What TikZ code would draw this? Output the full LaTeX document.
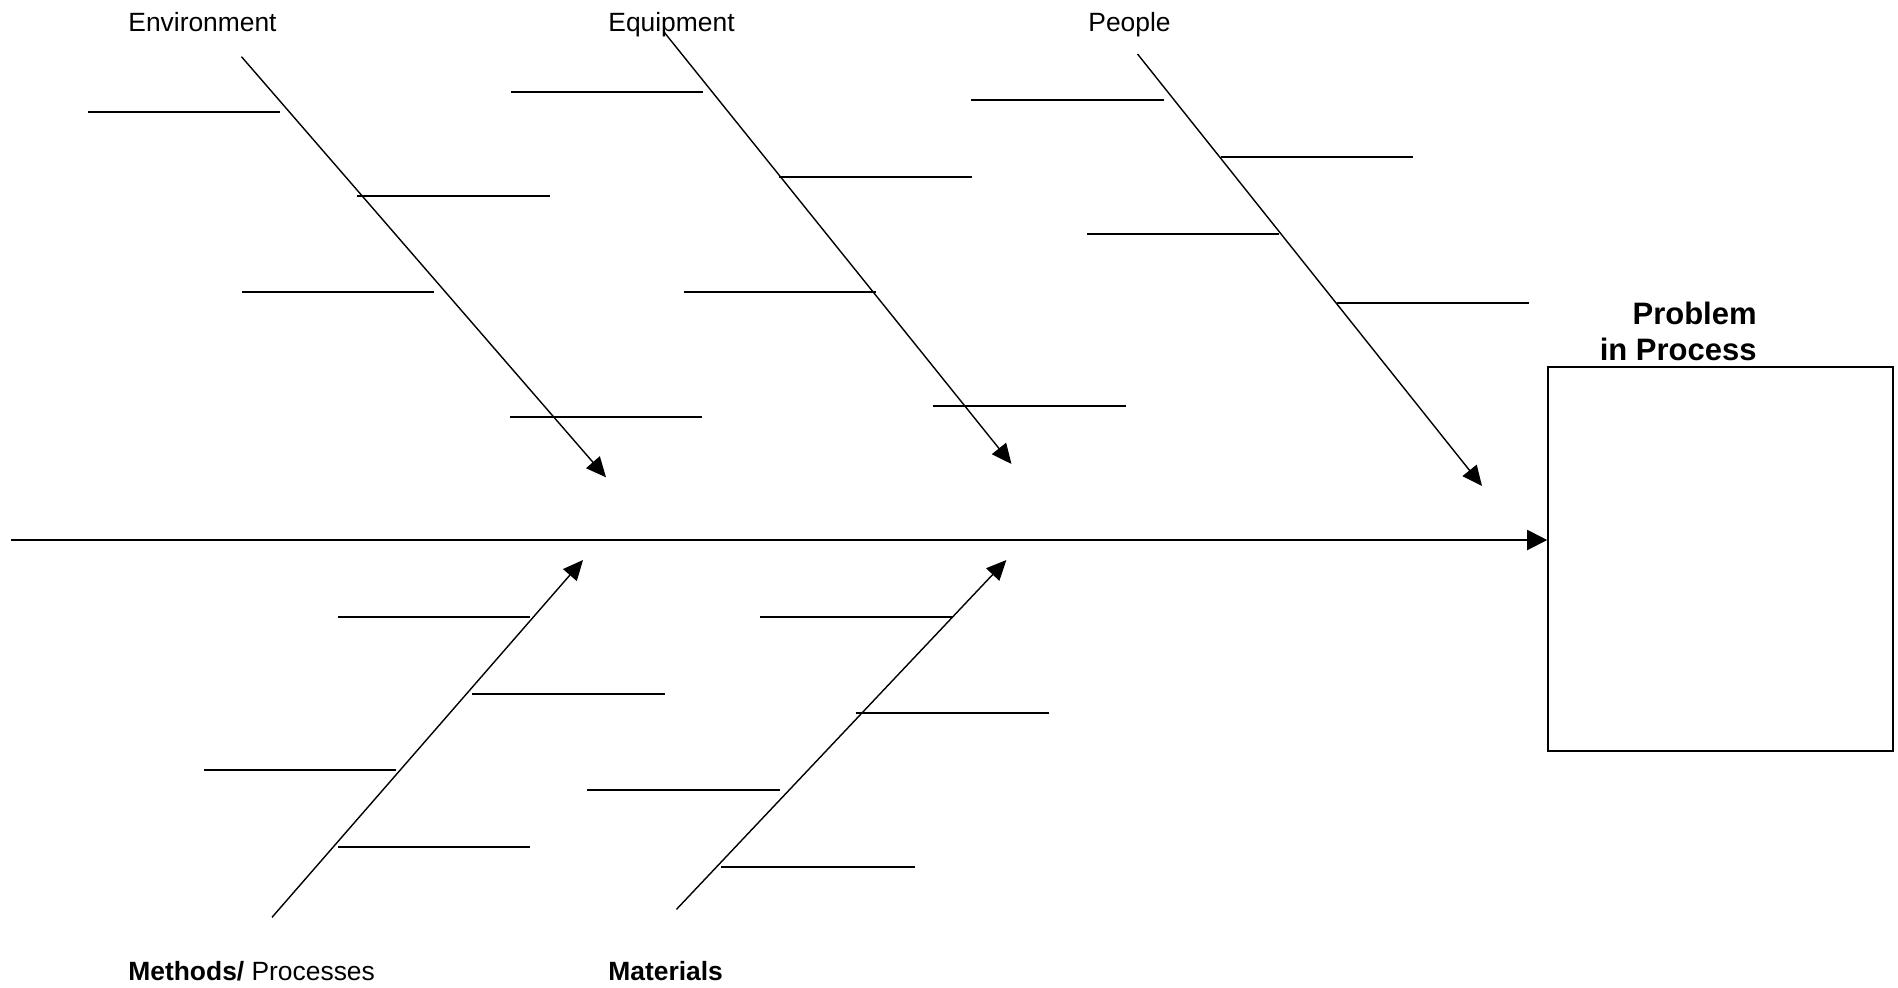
\documentclass[tikz,border=0pt]{standalone}
\usepackage{fontspec}
\setmainfont{Liberation Sans}
\usetikzlibrary{arrows.meta}
\begin{document}
\begin{tikzpicture}[x=0.5pt,y=-0.5pt,
  lbl/.style={inner sep=0pt, anchor=base west, font=\fontsize{13.2}{16}\selectfont},
  ttl/.style={inner sep=0pt, anchor=base east, font=\fontsize{15.5}{18}\selectfont\bfseries},
  bone/.style={line width=0.7pt, -{Triangle[length=10pt,width=9pt]}},
  sub/.style={line width=0.9pt},
  spine/.style={line width=1pt, -{Triangle[length=10pt,width=10pt]}},
  effect/.style={draw, line width=0.8pt, inner sep=0pt, minimum width=172.5pt, minimum height=192pt},
]
\useasboundingbox (0,0) rectangle (1898,987);

% category labels
\node[lbl] (lenv) at (128,31.7) {Environment};
\node[lbl] (lequ) at (608,31.7) {Equipment};
\node[lbl] (lpeo) at (1088,31.7) {People};
\node[lbl] (lmet) at (128,980) {\textbf{Methods/} Processes};
\node[lbl] (lmat) at (608,980) {\textbf{Materials}};

% effect box and its title
\node[effect] (box) at (1720.5,559) {};
\node[ttl] (t1) at (1757,324) {Problem};
\node[ttl] (t2) at (1757,360) {in Process};

% spine
\coordinate (s0) at (11,540);
\draw[spine] (s0) -- (s0 -| box.west);

% bones
\coordinate (env0) at (241.5,56.7);  \coordinate (env1) at (606,477.3);
\coordinate (equ0) at (664,32);      \coordinate (equ1) at (1011.5,464);
\coordinate (peo0) at (1137.5,54);   \coordinate (peo1) at (1482,486);
\coordinate (met0) at (272,917.3);   \coordinate (met1) at (583,560);
\coordinate (mat0) at (676.5,909.3); \coordinate (mat1) at (1006.4,560);
\draw[bone] (env0) -- (env1);
\draw[bone] (equ0) -- (equ1);
\draw[bone] (peo0) -- (peo1);
\draw[bone] (met0) -- (met1);
\draw[bone] (mat0) -- (mat1);

% Environment sub-causes
\draw[sub] (88,111.7) -- (280,111.7);
\draw[sub] (357,196) -- (550,196);
\draw[sub] (241.5,292) -- (434,292);
\draw[sub] (510,416.7) -- (702,416.7);
% Equipment sub-causes
\draw[sub] (511,92.3) -- (703,92.3);
\draw[sub] (779,176.7) -- (972,176.7);
\draw[sub] (683.5,292) -- (876,292);
\draw[sub] (933,405.7) -- (1126,405.7);
% People sub-causes
\draw[sub] (971,99.7) -- (1164,99.7);
\draw[sub] (1220.5,157.3) -- (1413,157.3);
\draw[sub] (1087,234.3) -- (1279,234.3);
\draw[sub] (1337,303.3) -- (1529,303.3);
% Methods sub-causes
\draw[sub] (338,617) -- (530,617);
\draw[sub] (472,693.7) -- (665,693.7);
\draw[sub] (203.6,770.3) -- (396,770.3);
\draw[sub] (338,847.3) -- (530,847.3);
% Materials sub-causes
\draw[sub] (760,617) -- (952.5,617);
\draw[sub] (855.6,712.7) -- (1049,712.7);
\draw[sub] (587,789.7) -- (780,789.7);
\draw[sub] (721,866.7) -- (914.6,866.7);
\end{tikzpicture}
\end{document}
